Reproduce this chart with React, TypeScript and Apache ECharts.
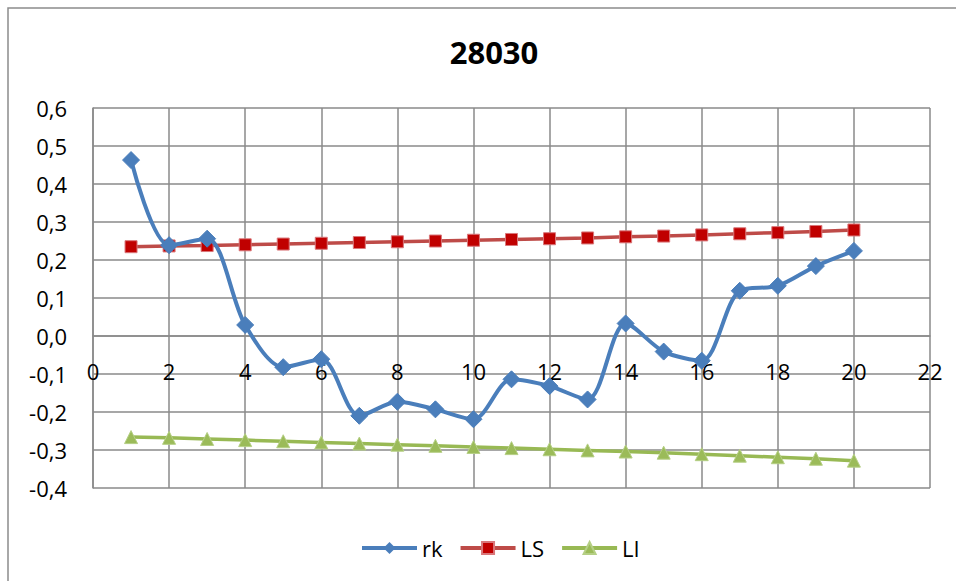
import React, { useEffect, useRef } from "react";
import * as echarts from "echarts";

const lags = [1, 2, 3, 4, 5, 6, 7, 8, 9, 10, 11, 12, 13, 14, 15, 16, 17, 18, 19, 20];
const rk = [0.463, 0.239, 0.256, 0.029, -0.082, -0.061, -0.21, -0.173, -0.193, -0.219, -0.114, -0.132, -0.167, 0.033, -0.041, -0.065, 0.119, 0.132, 0.184, 0.224];
const LS = [0.235, 0.237, 0.238, 0.24, 0.242, 0.244, 0.246, 0.248, 0.25, 0.252, 0.254, 0.256, 0.258, 0.261, 0.263, 0.266, 0.269, 0.272, 0.275, 0.279];
const LI = [-0.266, -0.268, -0.271, -0.274, -0.277, -0.28, -0.283, -0.286, -0.289, -0.292, -0.295, -0.298, -0.301, -0.304, -0.307, -0.311, -0.315, -0.319, -0.323, -0.328];
const titleText = "28030";

const FONT = "'Open Sans', 'Noto Sans', sans-serif";
const GRID = "#8a8a8a";

function pairs(ys: number[]) {
  return lags.map((x, i) => [x, ys[i]]);
}

export default function App() {
  const ref = useRef<HTMLDivElement>(null);
  useEffect(() => {
    if (!ref.current) return;
    const chart = echarts.init(ref.current, null, { renderer: "svg" });
    chart.setOption({
      animation: false,
      backgroundColor: "#ffffff",
      textStyle: { fontFamily: FONT },
      title: {
        text: titleText,
        left: 489,
        top: 31,
        textAlign: "center",
        textStyle: { fontFamily: FONT, fontWeight: "bold", fontSize: 31, color: "#000" },
      },
      graphic: [
        {
          type: "rect",
          shape: { x: 8, y: 8, width: 1100, height: 900 },
          style: { fill: "none", stroke: "#8c8c8c", lineWidth: 1.5 },
          silent: true,
        },
      ],
      legend: {
        left: 355,
        top: 532,
        itemWidth: 55,
        itemHeight: 15,
        itemGap: 16,
        lineStyle: { width: 4 },
        textStyle: { fontFamily: FONT, fontSize: 22, color: "#000" },
        data: ["rk", "LS", "LI"],
      },
      grid: { left: 93, top: 108, right: 26, bottom: 93, containLabel: false },
      xAxis: {
        type: "value",
        min: 0,
        max: 22,
        interval: 2,
        offset: -152,
        axisLine: { show: true, onZero: false, lineStyle: { color: GRID, width: 1.5 } },
        axisTick: { show: false },
        axisLabel: { margin: 24, fontFamily: FONT, fontSize: 22, color: "#000" },
        splitLine: { show: true, lineStyle: { color: GRID, width: 1.5 } },
      },
      yAxis: {
        type: "value",
        min: -0.4,
        max: 0.6,
        interval: 0.1,
        axisLine: { show: true, onZero: false, lineStyle: { color: GRID, width: 1.5 } },
        axisTick: { show: false },
        axisLabel: {
          margin: 26,
          fontFamily: FONT,
          fontSize: 22,
          color: "#000",
          formatter: (v: number) => v.toFixed(1).replace(".", ",").replace("-0,0", "0,0"),
        },
        splitLine: { show: true, lineStyle: { color: GRID, width: 1.5 } },
      },
      series: [
        {
          name: "rk",
          type: "line",
          data: pairs(rk),
          smooth: 0.3,
          symbol: "diamond",
          symbolSize: 17,
          lineStyle: { color: "#4a7ebb", width: 4 },
          itemStyle: { color: "#4a7ebb", borderColor: "#4a7ebb" },
          z: 4,
        },
        {
          name: "LS",
          type: "line",
          data: pairs(LS),
          symbol: "rect",
          symbolSize: 12,
          lineStyle: { color: "#be4b48", width: 3.5 },
          itemStyle: { color: "#c00000", borderColor: "#d9777a", borderWidth: 1 },
          z: 3,
        },
        {
          name: "LI",
          type: "line",
          data: pairs(LI),
          symbol: "triangle",
          symbolSize: 13,
          lineStyle: { color: "#98b954", width: 3.5 },
          itemStyle: { color: "#9bbb59", borderColor: "#b5cf85", borderWidth: 1 },
          z: 3,
        },
      ],
    });
    return () => chart.dispose();
  }, []);
  return (
    <div
      ref={ref}
      style={{ position: "fixed", left: 0, top: 0, width: 956, height: 581, background: "#fff" }}
    />
  );
}
